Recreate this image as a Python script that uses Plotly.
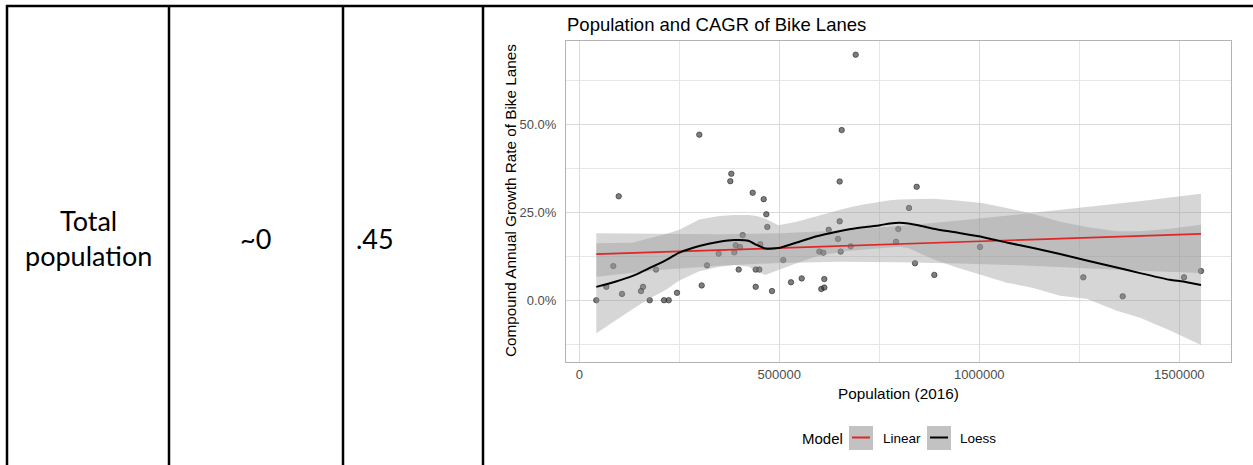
import plotly.graph_objects as go

W, H = 1253, 465

# ---- table cell text ----
row_label = "Total<br>population"
coef_text = "~0"
r2_text = ".45"

# ---- scatter data: population (2016) vs CAGR of bike lanes (%) ----
pop = [42500, 67500, 85000, 98500, 106750, 154250, 159250, 176000, 191750, 211750,
       223500, 244250, 300000, 306000, 319250, 348500, 377500, 380000, 387500, 391000,
       398500, 401750, 408500, 433500, 441000, 441000, 450000, 452500, 461000, 467500,
       470000, 481750, 510000, 529250, 556000, 600000, 605000, 610000, 612500, 612500,
       623500, 646750, 651000, 651000, 653500, 656000, 678500, 691000, 791750, 797500,
       824250, 839250, 843500, 887500, 1001750, 1260000, 1358500, 1511750, 1554250]
cagr = [0.0, 3.8, 9.7, 29.5, 1.8, 2.6, 3.8, 0.0, 8.7, 0.0,
        0.0, 2.1, 47.0, 4.2, 9.9, 13.2, 33.8, 35.9, 13.6, 15.6,
        8.7, 15.1, 18.5, 30.5, 8.7, 3.8, 8.7, 15.9, 28.7, 24.4,
        20.8, 2.6, 11.4, 5.1, 6.2, 13.8, 3.2, 13.5, 6.0, 3.6,
        20.0, 17.4, 33.7, 22.4, 13.8, 48.3, 15.3, 69.7, 16.6, 20.2,
        26.2, 10.5, 32.2, 7.2, 15.1, 6.5, 1.1, 6.5, 8.3]

# ---- linear model fit with confidence band (%) ----
lin_x = [42500, 200000, 350000, 500000, 650000, 800000, 950000, 1100000, 1250000, 1400000, 1554250]
lin_fit = [13.07, 13.67, 14.24, 14.82, 15.39, 15.96, 16.53, 17.11, 17.68, 18.25, 18.84]
lin_lo = [6.7, 8.6, 9.8, 10.6, 10.9, 10.8, 10.4, 9.9, 9.2, 8.4, 7.7]
lin_hi = [19.0, 18.8, 18.7, 19.0, 19.8, 21.1, 22.6, 24.4, 26.2, 28.1, 30.2]

# ---- loess fit with confidence band (%) ----
loess_x = [42500, 91750, 133500, 175000, 216750, 250000, 300000, 350000, 387500, 422500,
           443500, 464250, 497500, 543500, 585000, 626750, 668500, 710000, 751750, 776750,
           800000, 822500, 850000, 885000, 943500, 1010000, 1068500, 1135000, 1201750,
           1268500, 1343500, 1401750, 1476750, 1510000, 1554250]
loess_fit = [3.8, 5.3, 6.9, 9.1, 11.4, 13.5, 15.4, 16.6, 17.1, 16.9,
             15.7, 14.7, 14.8, 16.4, 17.9, 19.0, 20.0, 20.7, 21.3, 21.8,
             22.0, 21.8, 21.2, 20.3, 19.2, 17.9, 16.4, 14.8, 13.1,
             11.3, 9.3, 7.7, 5.8, 5.3, 4.3]
loess_hi = [16.2, 16.2, 16.3, 17.6, 18.8, 20.0, 22.9, 23.9, 24.2, 24.2,
            23.9, 23.2, 21.3, 22.3, 23.6, 24.9, 26.2, 27.2, 28.0, 28.4,
            28.6, 28.7, 28.8, 28.8, 28.3, 27.5, 26.2, 24.5, 22.3,
            20.8, 19.6, 19.6, 20.3, 20.8, 21.4]
loess_lo = [-9.4, -5.6, -2.5, 0.4, 3.0, 5.6, 8.2, 9.5, 10.0, 9.6,
            8.2, 7.2, 8.5, 10.5, 12.2, 13.2, 14.0, 14.4, 14.6, 15.0,
            15.2, 14.8, 13.4, 11.6, 9.3, 7.0, 5.0, 3.5, 1.3,
            0.4, -3.0, -5.0, -8.6, -10.3, -12.7]

x_ticks = [0, 500000, 1000000, 1500000]
x_minor = [250000, 750000, 1250000]
y_ticks = [0, 25, 50]
y_minor = [-12.5, 12.5, 37.5, 62.5]

AX_FONT = "Liberation Sans, Arial, sans-serif"
TABLE_FONT = "Lato, Carlito, Calibri, sans-serif"
RIBBON = "rgba(153,153,153,0.4)"


def px(x):
    return x / W


def py(y):
    return 1 - y / H


fig = go.Figure()

# points first, smoothers drawn over them
fig.add_trace(go.Scatter(
    x=pop, y=cagr, mode="markers",
    marker=dict(size=5.5, color="rgba(55,55,55,0.65)",
                line=dict(color="rgba(20,20,20,0.65)", width=0.8)),
    hoverinfo="skip"))

for xs, lo, hi in [(lin_x, lin_lo, lin_hi), (loess_x, loess_lo, loess_hi)]:
    fig.add_trace(go.Scatter(
        x=xs + xs[::-1], y=hi + lo[::-1], mode="lines", fill="toself",
        fillcolor=RIBBON, line=dict(width=0), hoverinfo="skip"))

fig.add_trace(go.Scatter(x=lin_x, y=lin_fit, mode="lines",
                         line=dict(color="rgb(222,38,38)", width=1.7), hoverinfo="skip"))
fig.add_trace(go.Scatter(x=loess_x, y=loess_fit, mode="lines", line_shape="spline",
                         line=dict(color="black", width=2, smoothing=0.6), hoverinfo="skip"))

# ---- table borders ----
shapes = [dict(type="line", xref="paper", yref="paper",
               x0=px(6), x1=px(1253), y0=py(6), y1=py(6),
               line=dict(color="black", width=2.5))]
for vx in [7, 169, 343, 483]:
    shapes.append(dict(type="line", xref="paper", yref="paper",
                       x0=px(vx), x1=px(vx), y0=py(5), y1=py(465),
                       line=dict(color="black", width=2.5)))

# ---- legend keys ----
for (kx0, kx1), colour in [((849, 873), "rgb(222,38,38)"), ((927, 951), "black")]:
    shapes.append(dict(type="rect", xref="paper", yref="paper",
                       x0=px(kx0), x1=px(kx1), y0=py(450), y1=py(426),
                       fillcolor="#C2C2C2", line=dict(width=0)))
    shapes.append(dict(type="line", xref="paper", yref="paper",
                       x0=px(kx0 + 3), x1=px(kx1 - 3), y0=py(437.5), y1=py(437.5),
                       line=dict(color=colour, width=2)))

annotations = [
    dict(text=row_label, x=px(88), y=py(238), xanchor="center", yanchor="middle",
         font=dict(family=TABLE_FONT, size=27, color="black")),
    dict(text=coef_text, x=px(255), y=py(238), xanchor="center", yanchor="middle",
         font=dict(family=TABLE_FONT, size=27, color="black")),
    dict(text=r2_text, x=px(354), y=py(238), xanchor="left", yanchor="middle",
         font=dict(family=TABLE_FONT, size=27, color="black")),
    dict(text="Population and CAGR of Bike Lanes", x=px(565), y=py(25),
         xanchor="left", yanchor="middle",
         font=dict(family=AX_FONT, size=18.5, color="black")),
    dict(text="Compound Annual Growth Rate of Bike Lanes", x=px(510), y=py(201),
         xanchor="center", yanchor="middle", textangle=-90,
         font=dict(family=AX_FONT, size=15.3, color="black")),
    dict(text="Population (2016)", x=px(898.5), y=py(393),
         xanchor="center", yanchor="middle",
         font=dict(family=AX_FONT, size=15.3, color="black")),
    dict(text="Model", x=px(800), y=py(438), xanchor="left", yanchor="middle",
         font=dict(family=AX_FONT, size=15, color="black")),
    dict(text="Linear", x=px(880.5), y=py(438), xanchor="left", yanchor="middle",
         font=dict(family=AX_FONT, size=13.5, color="black")),
    dict(text="Loess", x=px(957.5), y=py(438), xanchor="left", yanchor="middle",
         font=dict(family=AX_FONT, size=13.5, color="black")),
]
for a in annotations:
    a.update(xref="paper", yref="paper", showarrow=False)

fig.update_layout(
    width=W, height=H, margin=dict(l=0, r=0, t=0, b=0),
    paper_bgcolor="white", plot_bgcolor="white", showlegend=False,
    shapes=shapes, annotations=annotations,
    xaxis=dict(
        domain=[px(566), px(1231)], range=[-33250, 1629250],
        tickmode="array", tickvals=x_ticks, ticktext=[str(v) for v in x_ticks],
        showgrid=True, gridcolor="#DBDBDB", gridwidth=1,
        minor=dict(tickmode="array", tickvals=x_minor, showgrid=True,
                   gridcolor="#E6E6E6", gridwidth=1),
        zeroline=False, showline=True, mirror=True, linecolor="#B3B3B3", linewidth=1,
        ticks="", ticklabelstandoff=0,
        tickfont=dict(family=AX_FONT, size=13, color="#4D4D4D")),
    yaxis=dict(
        domain=[py(362), py(40.7)], range=[-17.53, 73.67],
        tickmode="array", tickvals=y_ticks, ticktext=[f"{v:.1f}%" for v in y_ticks],
        showgrid=True, gridcolor="#DBDBDB", gridwidth=1,
        minor=dict(tickmode="array", tickvals=y_minor, showgrid=True,
                   gridcolor="#E6E6E6", gridwidth=1),
        zeroline=False, showline=True, mirror=True, linecolor="#B3B3B3", linewidth=1,
        ticks="", ticklabelstandoff=6,
        tickfont=dict(family=AX_FONT, size=13, color="#4D4D4D")),
)

fig.write_html("out.html")
